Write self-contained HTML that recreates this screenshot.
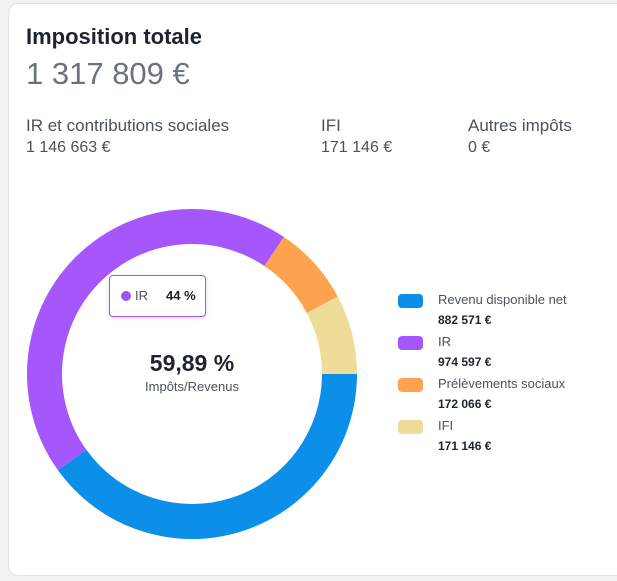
<!DOCTYPE html>
<html><head><meta charset="utf-8"><style>
html,body{margin:0;width:617px;height:581px;overflow:hidden}
body{background:#f1f2f4;font-family:"Liberation Sans",sans-serif;position:relative}
#wrap{position:absolute;left:0;top:0;width:617px;height:581px;overflow:hidden}
.card{position:absolute;left:8px;top:3px;width:620px;height:573px;background:#fff;border:1px solid #dfe1e5;border-radius:10px;box-sizing:border-box}
.t{position:absolute;white-space:nowrap}
</style></head><body><div id="wrap">
<div class="card"></div>
<div class="t" style="left:26px;top:24px;font-size:22px;font-weight:bold;color:#1d2330">Imposition totale</div>
<div class="t" style="left:26px;top:56px;font-size:31px;color:#6b7280">1 317 809 €</div>
<div class="t" style="left:26px;top:116px;font-size:17px;color:#4b5160">IR et contributions sociales</div>
<div class="t" style="left:26px;top:139px;font-size:16px;color:#4b5160">1 146 663 €</div>
<div class="t" style="left:321px;top:116px;font-size:17px;color:#4b5160">IFI</div>
<div class="t" style="left:321px;top:139px;font-size:16px;color:#4b5160">171 146 €</div>
<div class="t" style="left:468px;top:116px;font-size:17px;color:#4b5160">Autres impôts</div>
<div class="t" style="left:468px;top:139px;font-size:16px;color:#4b5160">0 €</div>
<svg id="chart" width="617" height="581" style="position:absolute;left:0;top:0"></svg>
<div class="t" style="left:92px;top:350px;width:200px;text-align:center;font-size:23px;font-weight:bold;color:#1d2330">59,89 %</div>
<div class="t" style="left:92px;top:379px;width:200px;text-align:center;font-size:13px;color:#4b5160">Impôts/Revenus</div>
<div style="position:absolute;left:109px;top:275px;width:95px;height:40px;border:1px solid #a855f7;border-radius:4px;background:#fff;box-shadow:0 1px 4px rgba(0,0,0,.15)">
<div style="position:absolute;left:11px;top:15px;width:10px;height:10px;border-radius:50%;background:#9b59f0"></div>
<div class="t" style="left:25px;top:12px;font-size:13px;color:#4b5160">IR</div>
<div class="t" style="left:56px;top:12px;font-size:13px;font-weight:bold;color:#1d2330">44 %</div>
</div>
<div id="legend"></div>
</div>
<script>
const categories=["Revenu disponible net","IR","Prélèvements sociaux","IFI"];
const values=[882571,974597,172066,171146];
const valueLabels=["882 571 €","974 597 €","172 066 €","171 146 €"];
const colors=["#0b8fe8","#a557fc","#fda34f","#efdc98"];
const svg=document.getElementById('chart');
const cx=192,cy=374,R=165,r=130;
const total=values.reduce((a,b)=>a+b,0);
let a=0;
function pt(rad,ang){return [cx+rad*Math.cos(ang),cy+rad*Math.sin(ang)];}
values.forEach((v,i)=>{
 const a2=a+v/total*2*Math.PI;
 const lg=(a2-a)>Math.PI?1:0;
 const p1=pt(R,a),p2=pt(R,a2),p3=pt(r,a2),p4=pt(r,a);
 const p=document.createElementNS('http://www.w3.org/2000/svg','path');
 p.setAttribute('d',`M${p1}A${R},${R} 0 ${lg} 1 ${p2}L${p3}A${r},${r} 0 ${lg} 0 ${p4}Z`);
 p.setAttribute('fill',colors[i]);
 
 
 svg.appendChild(p);
 a=a2;
});
const lg=document.getElementById('legend');
categories.forEach((c,i)=>{
 const y=294+i*42;
 const d=document.createElement('div');
 
 
 d.style.cssText=`position:absolute;left:398px;top:${y}px`;
 d.innerHTML=`<div style="position:absolute;left:0;top:0;width:25px;height:14px;border-radius:4px;background:${colors[i]}"></div>
 <div class="t" style="left:40px;top:-2px;font-size:13px;color:#4b5160">${c}</div>
 <div class="t" style="left:40px;top:19px;font-size:12px;font-weight:bold;color:#1d2330">${valueLabels[i]}</div>`;
 lg.appendChild(d);
});
</script>
</body></html>
